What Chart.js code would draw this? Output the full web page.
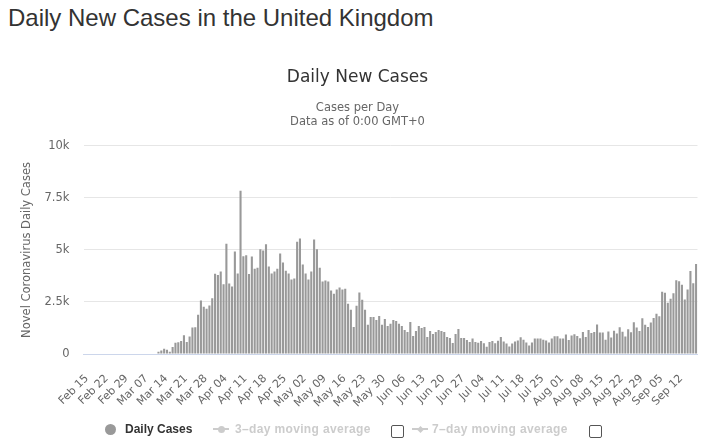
<!DOCTYPE html>
<html>
<head>
<meta charset="utf-8">
<script src="https://cdn.jsdelivr.net/npm/chart.js@4.4.0/dist/chart.umd.min.js"></script>
<style>
  html, body { margin: 0; padding: 0; background: #fff; width: 725px; height: 445px; overflow: hidden; }
  #wrap { position: relative; width: 725px; height: 445px; }
  #pageTitle { position: absolute; left: 8px; top: 4px; font: 24px "Liberation Sans", Arial, sans-serif; color: #333; line-height: 28px; white-space: nowrap; }
  canvas { position: absolute; left: 0; top: 0; }
  .lgt { position: absolute; top: 422px; font: bold 12px "Liberation Sans", Arial, sans-serif; line-height: 14px; white-space: nowrap; }
  .dot { position: absolute; left: 105px; top: 424px; width: 11px; height: 11px; border-radius: 50%; background: #999; }
  .ln { position: absolute; height: 2px; background: #ccc; top: 428px; width: 16px; }
  .lc { position: absolute; width: 7px; height: 7px; border-radius: 50%; background: #ccc; top: 425.5px; }
  .ld { position: absolute; width: 5px; height: 5px; background: #ccc; top: 426.5px; transform: rotate(45deg); }
  .cb { position: absolute; top: 425px; width: 11px; height: 11px; border: 1px solid #555; border-radius: 2px; background: #fff; }
</style>
</head>
<body>
<div id="wrap">
  <div id="pageTitle">Daily New Cases in the United Kingdom</div>
  <canvas id="c" width="715" height="445"></canvas>
  <div class="dot"></div>
  <div class="lgt" style="left:125px;color:#333;">Daily Cases</div>
  <div class="ln" style="left:213px;"></div>
  <div class="lc" style="left:217.5px;"></div>
  <div class="lgt" style="left:235px;color:#ccc;letter-spacing:0.35px;">3–day moving average</div>
  <div class="cb" style="left:391px;"></div>
  <div class="ln" style="left:412px;"></div>
  <div class="ld" style="left:418px;"></div>
  <div class="lgt" style="left:432px;color:#ccc;letter-spacing:0.35px;">7–day moving average</div>
  <div class="cb" style="left:589px;"></div>
</div>
<script>
// ---- data ----
const startDate = '2020-02-15';
const tickLabels = ['Feb 15','Feb 22','Feb 29','Mar 07','Mar 14','Mar 21','Mar 28','Apr 04','Apr 11','Apr 18','Apr 25',
  'May 02','May 09','May 16','May 23','May 30','Jun 06','Jun 13','Jun 20','Jun 27','Jul 04','Jul 11','Jul 18','Jul 25',
  'Aug 01','Aug 08','Aug 15','Aug 22','Aug 29','Sep 05','Sep 12'];
const casesFebMar = [0,0,0,0,0,0,0,0,0,0,0,0,0,0,0,0,0,0,0,0,0,0,0,0,0,0];
const casesMarApr = [110,165,250,200,110,340,540,560,620,900,580,840,1270,1280,1890,2570,2270,2170,2330,2680,
  3860,3800,3960,3350,5300,3390,3250,4930,3870,7840,4700,4750];
const casesAprJun = [3850,4690,4100,4150,5030,4980,5270,4200,3870,3960,4100,4830,4400,4000,3870,3580,3630,5400,5550,4300,
  3870,3580,3960,5500,5030,4150,3480,3530,3480,3050,2900,3100,3200,3100,3140,2420,2130,1300,2320,2950,
  2610,2130,1400,1780,1780,1630,1830,1400,1680,1350,1450,1630,1590,1450,1350,1150,1060];
const casesJunJul = [1540,870,1100,1350,1250,1300,820,1100,960,1060,1150,1100,1060,820,770,530,960,1200,770,770,670,580,
  740,576,544,624,516,352,581,630,512,642,820,
  600,500,360,500,600,650,800,690,550,410,550,740,740,740,690,650,550,740,850,850];
const casesAugSep = [744,743,938,670,892,950,871,758,1062,816,1148,1009,1060,1420,1030,1030,690,1080,790,1120,980,1288,1070,840,
  1184,1048,1522,1276,1108,1715,1406,1295,1508,1735,1940,1813,2988,2948,2460,2659,2919,3539,3497,3330,2621,3105,3991,3395,4322];
const dailyCases = [].concat(casesFebMar, casesMarApr, casesAprJun, casesJunJul, casesAugSep);

// categories: one per day from startDate
const monthNames = ['Jan','Feb','Mar','Apr','May','Jun','Jul','Aug','Sep','Oct','Nov','Dec'];
const categories = [];
(function () {
  const d = new Date(startDate + 'T00:00:00Z');
  for (let k = 0; k < dailyCases.length; k++) {
    const dd = String(d.getUTCDate()).padStart(2, '0');
    categories.push(monthNames[d.getUTCMonth()] + ' ' + dd);
    d.setUTCDate(d.getUTCDate() + 1);
  }
})();

const FONT = '"DejaVu Sans", sans-serif';

new Chart(document.getElementById('c').getContext('2d'), {
  type: 'bar',
  data: {
    labels: categories,
    datasets: [{
      label: 'Daily Cases',
      data: dailyCases,
      backgroundColor: '#999999',
      borderWidth: 0,
      barPercentage: 0.74,
      categoryPercentage: 1.0
    }]
  },
  options: {
    responsive: false,
    animation: false,
    layout: { padding: { top: 67.3, left: 17.5, right: 17.5, bottom: 0 } },
    plugins: {
      legend: { display: false },
      tooltip: { enabled: false },
      title: {
        display: true, text: 'Daily New Cases', color: '#333333',
        font: { family: FONT, size: 17, weight: 'normal', lineHeight: 1.2 },
        padding: { top: 0, bottom: 13 }
      },
      subtitle: {
        display: true, text: ['Cases per Day', 'Data as of 0:00 GMT+0'], color: '#666666',
        font: { family: FONT, size: 11.5, weight: 'normal', lineHeight: 1.26 },
        padding: { top: 0, bottom: 16.25 }
      }
    },
    scales: {
      x: {
        grid: { display: false },
        border: { display: true, color: '#ccd6eb', width: 1 },
        ticks: {
          autoSkip: false, maxRotation: 45, minRotation: 45,
          color: '#666666', font: { family: FONT, size: 11 },
          padding: 10, labelOffset: 2,
          callback: function (v, i) { return i % 7 === 0 ? tickLabels[i / 7] : null; }
        },
        afterFit: function (s) { s.height = 91; }
      },
      y: {
        min: 0, max: 10000,
        ticks: {
          stepSize: 2500, color: '#666666', font: { family: FONT, size: 11.5 }, padding: 14,
          callback: function (v) { return v === 0 ? '0' : (v / 1000) + 'k'; }
        },
        grid: {
          drawTicks: false, lineWidth: 1,
          color: function (ctx) { return ctx.tick && ctx.tick.value === 0 ? 'rgba(0,0,0,0)' : '#e6e6e6'; }
        },
        border: { display: false },
        title: {
          display: true, text: 'Novel Coronavirus Daily Cases', color: '#666666',
          font: { family: FONT, size: 11.5 }, padding: { top: 2.6, bottom: 0 }
        },
        afterFit: function (s) { s.width = 66; }
      }
    }
  }
});
</script>
</body>
</html>
